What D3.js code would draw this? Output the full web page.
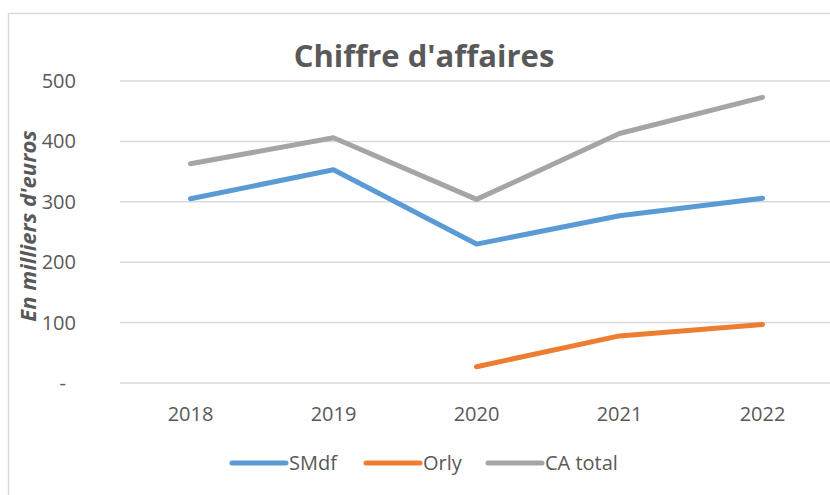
<!DOCTYPE html>
<html>
<head>
<meta charset="utf-8">
<script src="https://cdn.jsdelivr.net/npm/d3@7"></script>
<style>
  body { margin: 0; background: #fff; }
  svg { display: block; font-family: "Open Sans", sans-serif; }
</style>
</head>
<body>
<div id="chart"></div>
<script>
const years = ["2018", "2019", "2020", "2021", "2022"];
const smdf = [305, 353, 230, 277, 306];
const orly = [null, null, 27, 78, 97];
const caTotal = [363, 406, 304, 413, 473];
const yTicks = [0, 100, 200, 300, 400, 500];

const seriesList = [
  { name: "SMdf", values: smdf, color: "#5b9bd5" },
  { name: "Orly", values: orly, color: "#ed7d31" },
  { name: "CA total", values: caTotal, color: "#a5a5a5" }
];

const width = 830, height = 495;
const textColor = "#595959";

const svg = d3.select("#chart").append("svg")
  .attr("width", width)
  .attr("height", height);

// chart area border (runs off the right and bottom)
svg.append("rect")
  .attr("x", 8.5).attr("y", 13.5)
  .attr("width", 900).attr("height", 600)
  .attr("fill", "none")
  .attr("stroke", "#d9d9d9")
  .attr("stroke-width", 1.5);

const x = d3.scaleBand().domain(years).range([119, 834]);
const y = d3.scaleLinear().domain([0, 500]).range([383, 81]);

// gridlines
svg.append("g")
  .selectAll("line")
  .data(yTicks)
  .join("line")
  .attr("x1", 120).attr("x2", 840)
  .attr("y1", d => y(d)).attr("y2", d => y(d))
  .attr("stroke", "#d9d9d9")
  .attr("stroke-width", 1.5);

// y tick labels
svg.append("g")
  .selectAll("text")
  .data(yTicks)
  .join("text")
  .attr("x", d => d === 0 ? 66 : 76)
  .attr("y", d => y(d))
  .attr("dy", "0.35em")
  .attr("text-anchor", "end")
  .attr("fill", textColor)
  .attr("font-size", 20)
  .text(d => d === 0 ? "-" : d);

// x tick labels
svg.append("g")
  .selectAll("text")
  .data(years)
  .join("text")
  .attr("x", d => x(d) + x.bandwidth() / 2)
  .attr("y", 421)
  .attr("text-anchor", "middle")
  .attr("fill", textColor)
  .attr("font-size", 20)
  .text(d => d);

// y axis title
svg.append("text")
  .attr("transform", "translate(36,226) rotate(-90)")
  .attr("text-anchor", "middle")
  .attr("fill", textColor)
  .attr("font-size", 22)
  .attr("font-weight", "bold")
  .attr("font-style", "italic")
  .text("En milliers d'euros");

// title
svg.append("text")
  .attr("x", 424)
  .attr("y", 67)
  .attr("text-anchor", "middle")
  .attr("fill", textColor)
  .attr("font-size", 31)
  .attr("font-weight", "bold")
  .text("Chiffre d'affaires");

// lines
const line = d3.line()
  .defined(d => d.v != null)
  .x(d => x(d.year) + x.bandwidth() / 2)
  .y(d => y(d.v));

svg.append("g")
  .selectAll("path")
  .data(seriesList)
  .join("path")
  .attr("d", s => line(years.map((yr, i) => ({ year: yr, v: s.values[i] }))))
  .attr("fill", "none")
  .attr("stroke", s => s.color)
  .attr("stroke-width", 5)
  .attr("stroke-linecap", "round")
  .attr("stroke-linejoin", "round");

// legend
const legendX = [232, 366, 488];
const legend = svg.append("g")
  .selectAll("g")
  .data(seriesList)
  .join("g")
  .attr("transform", (s, i) => `translate(${legendX[i]},463)`);

legend.append("line")
  .attr("x1", 0).attr("x2", 54)
  .attr("stroke", s => s.color)
  .attr("stroke-width", 5)
  .attr("stroke-linecap", "round");

legend.append("text")
  .attr("x", 57)
  .attr("dy", "0.35em")
  .attr("fill", textColor)
  .attr("font-size", 20)
  .text(s => s.name);
</script>
</body>
</html>
